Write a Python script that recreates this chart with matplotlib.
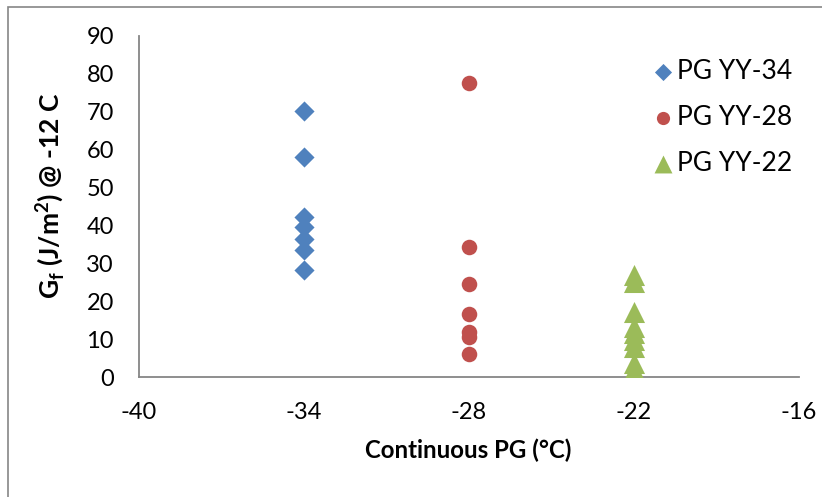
import matplotlib
matplotlib.use("Agg")
import matplotlib.pyplot as plt
from matplotlib.patches import Rectangle

plt.rcParams['font.family'] = ['Lato', 'DejaVu Sans']
plt.rcParams['axes.unicode_minus'] = False
plt.rcParams['mathtext.fontset'] = 'custom'
plt.rcParams['mathtext.rm'] = 'Lato'
plt.rcParams['mathtext.bf'] = 'Lato:bold'

# Data
series_names = ["PG YY-34", "PG YY-28", "PG YY-22"]
x_34 = [-34] * 7
y_34 = [70.3, 58.1, 42.3, 39.5, 36.5, 33.6, 28.3]
x_28 = [-28] * 7
y_28 = [77.5, 34.4, 24.5, 16.6, 12.0, 10.6, 6.2]
x_22 = [-22] * 9
y_22 = [27.0, 25.0, 17.2, 13.2, 11.6, 9.8, 8.0, 3.7, 1.9]
x_ticks = [-40, -34, -28, -22, -16]
y_ticks = [0, 10, 20, 30, 40, 50, 60, 70, 80, 90]

colors = ["#4F81BD", "#C0504D", "#9BBB59"]
W, H = 822, 497
fig = plt.figure(figsize=(W / 100, H / 100), dpi=100)

# outer chart border
fig.patches.append(Rectangle((8 / W, -0.05), 1.2, 1 - 7 / H + 0.05, transform=fig.transFigure,
                             fill=False, edgecolor="#868686", linewidth=1.2))

ax = fig.add_axes([139 / W, 1 - 377 / H, (799 - 139) / W, (377 - 36) / H])
ax.scatter(x_34, y_34, marker="D", s=105, color=colors[0], label=series_names[0], zorder=3, linewidths=0)
ax.scatter(x_28, y_28, marker="o", s=125, color=colors[1], label=series_names[1], zorder=3, linewidths=0)
ax.scatter(x_22, y_22, marker="^", s=230, color=colors[2], label=series_names[2], zorder=3, linewidths=0)

ax.set_xlim(-40, -16)
ax.set_ylim(0, 90)
ax.set_xticks(x_ticks)
ax.set_yticks(y_ticks)
ax.tick_params(axis="both", length=0, labelsize=17, colors="black")
ax.tick_params(axis="x", pad=18)
ax.tick_params(axis="y", pad=18)
for s in ["top", "right"]:
    ax.spines[s].set_visible(False)
for s in ["left", "bottom"]:
    ax.spines[s].set_color("#868686")
    ax.spines[s].set_linewidth(1.3)

fig.text(468 / W, 1 - 450 / H, "Continuous PG (°C)", ha="center", va="center",
         fontsize=17.3, fontweight="bold")
fig.text(50 / W, 1 - 196 / H, r"G$_\mathbf{f}$ (J/m$^\mathbf{2}$) @ -12 C", ha="center", va="center",
         rotation=90, fontsize=19, fontweight="bold")

leg = ax.legend(loc="upper left", bbox_to_anchor=(629 / W, 1 - 38 / H), bbox_transform=fig.transFigure,
                frameon=False, fontsize=19, handletextpad=0.0, labelspacing=0.8,
                handlelength=1.0, markerscale=0.85, borderpad=0.3)

fig.savefig("out.png", dpi=100)
